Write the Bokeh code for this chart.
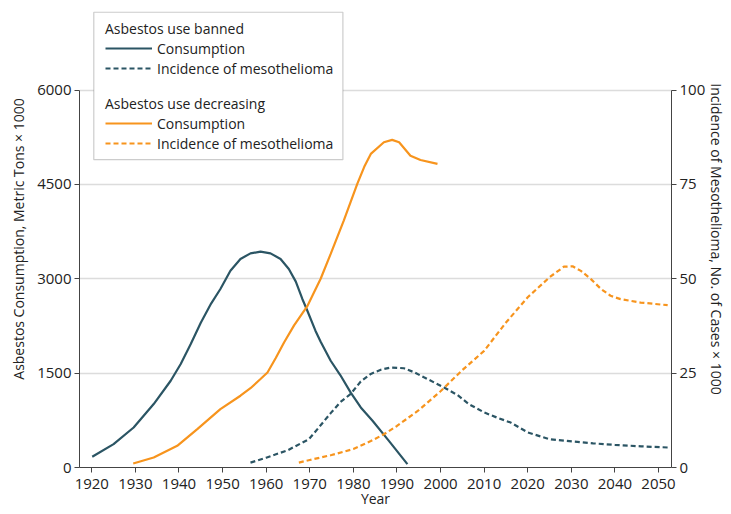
from bokeh.plotting import figure
from bokeh.models import Range1d, LinearAxis, FixedTicker, Legend, LegendItem, BoxAnnotation
from bokeh.embed import file_html
from bokeh.resources import INLINE

# ---- data ----
ban_cons_year = [1920.1, 1925, 1929.6, 1934.2, 1938.1, 1940.4, 1942.7, 1945, 1947.4, 1949.5,
                 1951.8, 1954.1, 1956.4, 1958.7, 1961, 1963.3, 1965.2, 1966.8, 1968.3, 1969.4,
                 1971.3, 1972.5, 1974.8, 1977, 1979.4, 1981.7, 1984.4, 1988.2, 1992.4]
ban_cons_val = [170, 372, 636, 1008, 1379, 1645, 1963, 2300, 2610, 2838,
                3129, 3315, 3404, 3431, 3404, 3315, 3156, 2955, 2679, 2500,
                2175, 2000, 1697, 1470, 1190, 954, 743, 420, 54]

ban_inc_year = [1956.4, 1960, 1965, 1969.8, 1972, 1974.8, 1977, 1979.4, 1981.7, 1984, 1986.3,
                1988.6, 1991.6, 1994, 1996.2, 2000.8, 2003.9, 2006.5, 2010, 2013, 2016.1,
                2020, 2025, 2030.2, 2035, 2040, 2046, 2052.2]
ban_inc_val = [1.3, 2.6, 4.6, 7.5, 10.5, 14.4, 17.3, 19.5, 22.8, 24.8, 25.9,
               26.5, 26.3, 25.2, 23.9, 21.2, 19.2, 16.8, 14.6, 13.2, 11.9,
               9.3, 7.5, 6.9, 6.4, 6.0, 5.6, 5.3]

dec_cons_year = [1929.5, 1934.2, 1939.6, 1944.2, 1949.5, 1954.1, 1956.4, 1958.7, 1960.3,
                 1962.2, 1964.1, 1966.4, 1969.4, 1972.5, 1974.8, 1977.8, 1980.9, 1982.5,
                 1984, 1987, 1988.9, 1990.5, 1993.1, 1995.4, 1999.3]
dec_cons_val = [64, 159, 345, 611, 929, 1141, 1260, 1406, 1511,
                1740, 1988, 2260, 2560, 3000, 3395, 3925, 4508, 4780,
                4985, 5170, 5208, 5170, 4957, 4888, 4826]

dec_inc_year = [1967.5, 1970, 1975, 1980, 1984, 1987, 1990, 1995, 2000, 2005, 2010, 2015,
                2020, 2025, 2028.3, 2030.3, 2032.2, 2034.5, 2036.8, 2039, 2041.3, 2045.9, 2052.1]
dec_inc_val = [1.3, 2.0, 3.3, 4.9, 7.0, 8.8, 11.0, 15.2, 20.2, 25.8, 30.9, 38.4,
               45.1, 50.4, 53.2, 53.3, 52.1, 49.9, 47.3, 45.5, 44.6, 43.7, 43.0]

x_ticks = [1920, 1930, 1940, 1950, 1960, 1970, 1980, 1990, 2000, 2010, 2020, 2030, 2040, 2050]
left_ticks = [0, 1500, 3000, 4500, 6000]
right_ticks = [0, 25, 50, 75, 100]

TEAL = "#2b5564"
ORANGE = "#f7941d"
TXT = "#222222"
FONT = "Open Sans"

X0, X1 = 1917.18, 2052.98
Y_TOP = 7264.6
p = figure(width=731, height=514, output_backend="svg", toolbar_location=None,
           x_range=Range1d(X0, X1), y_range=Range1d(0, Y_TOP),
           min_border_left=79, min_border_right=60, min_border_top=10, min_border_bottom=47)
p.outline_line_color = None
p.extra_y_ranges = {"inc": Range1d(0, Y_TOP / 60.0)}

p.xgrid.grid_line_color = None
p.ygrid.ticker = FixedTicker(ticks=[1500, 3000, 4500, 6000])
p.ygrid.grid_line_color = "#dcdcdc"
p.ygrid.grid_line_width = 1.3

def style_axis(ax):
    ax.axis_line_color = "#444444"
    ax.major_tick_line_color = "#444444"
    ax.minor_tick_line_color = None
    ax.major_tick_in = 0
    ax.major_tick_out = 5
    ax.major_label_text_font = FONT
    ax.major_label_text_font_size = "15px"
    ax.major_label_text_color = TXT
    ax.axis_label_text_font = FONT
    ax.axis_label_text_font_size = "14px"
    ax.axis_label_text_color = TXT
    ax.axis_label_text_font_style = "normal"
    ax.major_label_standoff = 3

xa = p.xaxis[0]
style_axis(xa)
xa.ticker = FixedTicker(ticks=x_ticks)
xa.major_label_standoff = 6
xa.axis_label = "Year"
xa.axis_label_standoff = -3

ya = p.yaxis[0]
style_axis(ya)
ya.ticker = FixedTicker(ticks=left_ticks)
ya.bounds = (0, 6000)
ya.axis_label = "Asbestos Consumption, Metric Tons × 1000"
ya.axis_label_standoff = 6

ra = LinearAxis(y_range_name="inc", bounds=(0, 100))
style_axis(ra)
ra.ticker = FixedTicker(ticks=right_ticks)
ra.axis_label = "Incidence of Mesothelioma, No. of Cases × 1000"
ra.axis_label_standoff = -1
p.add_layout(ra, "right")

r1 = p.line(ban_cons_year, ban_cons_val, line_color=TEAL, line_width=2.2)
r2 = p.line(ban_inc_year, ban_inc_val, line_color=TEAL, line_width=2.2,
            line_dash="5 3", y_range_name="inc")
r3 = p.line(dec_cons_year, dec_cons_val, line_color=ORANGE, line_width=2.2)
r4 = p.line(dec_inc_year, dec_inc_val, line_color=ORANGE, line_width=2.2,
            line_dash="5 3", y_range_name="inc")

box = BoxAnnotation(left=1920.46, right=1977.6, top=7237, bottom=4894,
                    fill_color="white", fill_alpha=1.0, line_color="#555555", line_width=1.2)
p.add_layout(box)

def make_legend(title, items, loc):
    lg = Legend(title=title, items=items, location=loc, padding=0, margin=0, spacing=0,
                title_standoff=0, label_height=20, glyph_height=20, glyph_width=47,
                label_standoff=5, border_line_alpha=0, background_fill_alpha=0)
    lg.title_text_font = FONT
    lg.title_text_font_size = "14px"
    lg.title_text_font_style = "normal"
    lg.title_text_color = TXT
    lg.label_text_font = FONT
    lg.label_text_font_size = "14px"
    lg.label_text_color = TXT
    return lg

p.add_layout(make_legend("Asbestos use banned",
                         [LegendItem(label="Consumption", renderers=[r1]),
                          LegendItem(label="Incidence of mesothelioma", renderers=[r2])],
                         (26, 389)))
p.add_layout(make_legend("Asbestos use decreasing",
                         [LegendItem(label="Consumption", renderers=[r3]),
                          LegendItem(label="Incidence of mesothelioma", renderers=[r4])],
                         (26, 314)))

open("out.html", "w").write(file_html(p, INLINE))
